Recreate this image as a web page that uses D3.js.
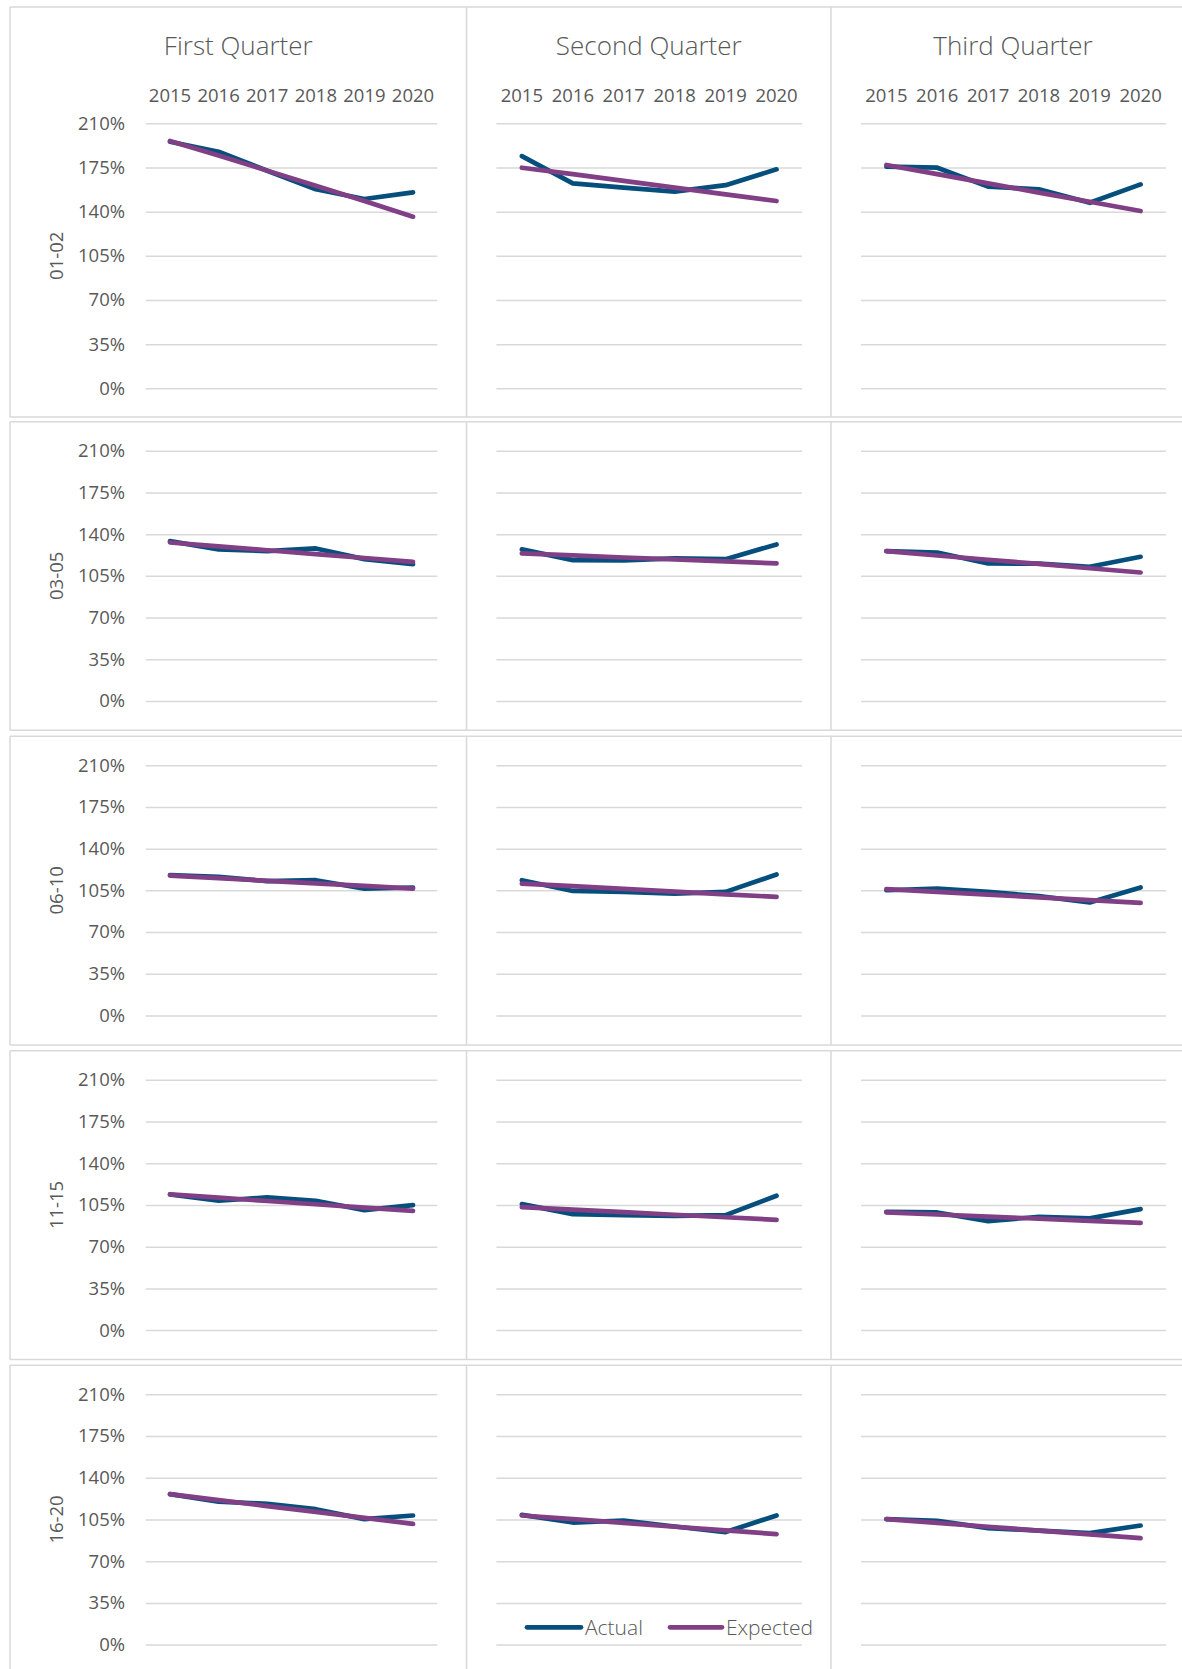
<!DOCTYPE html>
<html>
<head>
<meta charset="utf-8">
<script src="https://cdn.jsdelivr.net/npm/d3@7"></script>
<style>
  html, body { margin: 0; padding: 0; background: #ffffff; }
  svg { display: block; }
  text { font-family: "Open Sans", "Noto Sans", sans-serif; }
</style>
</head>
<body>
<svg id="chart" width="1182" height="1669"></svg>
<script>
// ---------------- DATA ----------------
const years = ["2015", "2016", "2017", "2018", "2019", "2020"];
const quarters = ["First Quarter", "Second Quarter", "Third Quarter"];
const ageGroups = ["01-02", "03-05", "06-10", "11-15", "16-20"];
const yTicks = [0, 35, 70, 105, 140, 175, 210];
const seriesNames = ["Actual", "Expected"];

// values in %, one inner array per quarter (Q1, Q2, Q3)
const actual_01_02 = [
  [195.4, 187.5, 172.4, 157.7, 150.0, 155.3],
  [184.0, 162.4, 159.0, 155.8, 161.0, 173.5],
  [175.6, 174.8, 159.8, 157.7, 147.0, 161.6]
];
const expected_01_02 = [
  [196.0, 184.5, 172.5, 160.5, 148.5, 136.0],
  [174.8, 169.7, 164.4, 159.0, 153.7, 148.4],
  [177.0, 169.7, 162.4, 155.1, 147.8, 140.5]
];
const actual_03_05 = [
  [134.1, 127.2, 125.7, 128.0, 119.0, 114.8],
  [127.2, 118.2, 118.0, 119.6, 119.0, 131.4],
  [125.7, 124.6, 115.4, 115.2, 112.6, 121.0]
];
const expected_03_05 = [
  [133.0, 129.8, 126.5, 123.3, 120.0, 116.8],
  [123.8, 122.1, 120.4, 118.8, 117.1, 115.4],
  [125.7, 122.1, 118.5, 115.0, 111.4, 107.8]
];
const actual_06_10 = [
  [117.7, 116.3, 112.7, 113.5, 106.5, 107.4],
  [113.5, 104.5, 103.7, 102.3, 103.7, 118.3],
  [105.1, 106.5, 103.7, 100.1, 94.8, 107.4]
];
const expected_06_10 = [
  [117.4, 115.2, 113.0, 110.9, 108.7, 106.5],
  [110.7, 108.5, 106.2, 104.0, 101.7, 99.5],
  [106.0, 103.7, 101.4, 99.1, 96.8, 94.5]
];
const actual_11_15 = [
  [113.8, 108.5, 111.3, 108.5, 100.7, 104.9],
  [105.7, 97.3, 96.5, 95.9, 96.5, 112.7],
  [99.2, 98.7, 91.4, 95.1, 93.7, 101.5]
];
const expected_11_15 = [
  [113.8, 111.1, 108.3, 105.6, 102.8, 100.1],
  [103.2, 101.1, 99.0, 96.8, 94.7, 92.5],
  [98.7, 97.0, 95.2, 93.5, 91.7, 90.0]
];
const actual_16_20 = [
  [126.2, 120.0, 118.1, 113.6, 105.3, 108.3],
  [108.9, 102.4, 104.1, 99.1, 94.4, 108.3],
  [105.3, 103.9, 97.7, 95.7, 93.5, 99.9]
];
const expected_16_20 = [
  [126.2, 121.2, 116.2, 111.3, 106.3, 101.3],
  [108.3, 105.2, 102.1, 98.9, 95.8, 92.7],
  [105.3, 102.1, 98.9, 95.7, 92.5, 89.3]
];

const actualRows = [actual_01_02, actual_03_05, actual_06_10, actual_11_15, actual_16_20];
const expectedRows = [expected_01_02, expected_03_05, expected_06_10, expected_11_15, expected_16_20];

// ---------------- LAYOUT ----------------
const W = 1182, H = 1669;
const textColor = "#595959";
const gridColor = "#d9d9d9";
const colors = { Actual: "#064f7c", Expected: "#813f86" };

const colEdges = [10, 466.5, 831, 1196];          // panel vertical borders
const plotX = [[145.7, 437.3], [496.4, 802], [861, 1166]];
const rowTops = [7, 421.7, 736.2, 1050.8, 1365.3];
const rowBottoms = [417, 730.3, 1044.9, 1359.5, 1680];
const plotY = rowTops.map((t, i) => i === 0 ? [123.3, 388.3] : [t + 29, t + 279.3]);

const svg = d3.select("#chart");

// panel borders
const borders = svg.append("g");
rowTops.forEach((t, r) => {
  const b = rowBottoms[r];
  borders.append("line").attr("x1", colEdges[0]).attr("x2", W + 5).attr("y1", t).attr("y2", t);
  borders.append("line").attr("x1", colEdges[0]).attr("x2", W + 5).attr("y1", b).attr("y2", b);
  colEdges.slice(0, 3).forEach(x => {
    borders.append("line").attr("x1", x).attr("x2", x).attr("y1", t).attr("y2", b);
  });
});
borders.selectAll("line").attr("stroke", gridColor).attr("stroke-width", 1.5);

// quarter titles
quarters.forEach((q, c) => {
  const cx = (colEdges[c] + colEdges[c + 1]) / 2;
  svg.append("text")
    .attr("x", c === 2 ? 1013 : cx).attr("y", 55)
    .attr("text-anchor", "middle")
    .attr("fill", textColor)
    .attr("font-size", 26)
    .attr("font-weight", 300)
    .text(q);
});

const line = (x, y) => d3.line().x((d, i) => x(years[i]) + x.bandwidth() / 2).y(d => y(d));

ageGroups.forEach((g, r) => {
  const [y0, y1] = plotY[r];
  const y = d3.scaleLinear().domain([0, 210]).range([y1, y0]);

  // row label
  svg.append("text")
    .attr("transform", `translate(${57 + 6},${(y0 + y1) / 2}) rotate(-90)`)
    .attr("text-anchor", "middle")
    .attr("fill", textColor)
    .attr("font-size", 18.5)
    .text(g);

  quarters.forEach((q, c) => {
    const [x0, x1] = plotX[c];
    const x = d3.scaleBand().domain(years).range([x0, x1]).padding(0);

    // grid + y labels
    const yAxis = d3.axisLeft(y)
      .tickValues(yTicks)
      .tickSize(-(x1 - x0))
      .tickPadding(20.7)
      .tickFormat(c === 0 ? (d => d + "%") : "");
    const ga = svg.append("g").attr("transform", `translate(${x0},0)`).call(yAxis);
    ga.select(".domain").remove();
    ga.selectAll(".tick line").attr("stroke", gridColor).attr("stroke-width", 1.5);
    ga.selectAll(".tick text").attr("fill", textColor).attr("font-size", 18.5)
      .attr("font-family", '"Open Sans", sans-serif');

    // year labels on top (first row only)
    if (r === 0) {
      const xAxis = d3.axisTop(x).tickSize(0).tickPadding(8);
      const gx = svg.append("g").attr("transform", `translate(0,110)`).call(xAxis);
      gx.select(".domain").remove();
      gx.selectAll(".tick text").attr("fill", textColor).attr("font-size", 18.5)
        .attr("font-family", '"Open Sans", sans-serif');
    }

    const series = { Actual: actualRows[r][c], Expected: expectedRows[r][c] };
    seriesNames.forEach(s => {
      svg.append("path")
        .datum(series[s])
        .attr("d", line(x, y))
        .attr("fill", "none")
        .attr("stroke", colors[s])
        .attr("stroke-width", 4.7)
        .attr("stroke-linecap", "round")
        .attr("stroke-linejoin", "round");
    });
  });
});

// legend (bottom row, second column)
const legend = svg.append("g");
const legendItems = [
  { name: "Actual", x1: 527, x2: 581 },
  { name: "Expected", x1: 670, x2: 722 }
];
legendItems.forEach(it => {
  legend.append("line")
    .attr("x1", it.x1).attr("x2", it.x2).attr("y1", 1627.3).attr("y2", 1627.3)
    .attr("stroke", colors[it.name]).attr("stroke-width", 4.7).attr("stroke-linecap", "round");
  legend.append("text")
    .attr("x", it.x2 + 4).attr("y", 1635)
    .attr("fill", textColor).attr("font-size", 21).attr("font-weight", 300)
    .text(it.name);
});
</script>
</body>
</html>
